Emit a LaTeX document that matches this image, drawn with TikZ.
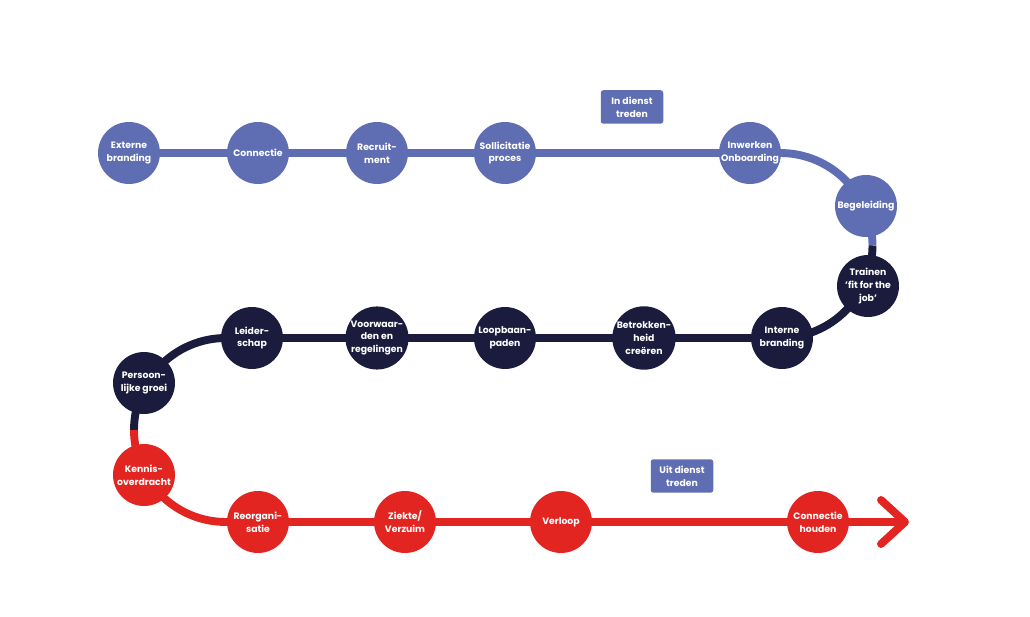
\documentclass[tikz,border=0pt]{standalone}
\usepackage{fontspec}
\setmainfont{Poppins}
\usetikzlibrary{backgrounds}
\definecolor{blauw}{HTML}{5F6DB3}
\definecolor{navy}{HTML}{1A1B3D}
\definecolor{rood}{HTML}{E32522}

\begin{document}
\begin{tikzpicture}[x=0.02cm,y=-0.02cm,
	stap/.style={circle,fill=#1,minimum size=1.24cm,inner sep=0pt,text=white,align=center,font=\bfseries\fontsize{5.3}{7.3}\selectfont},
	fase/.style={rectangle,rounded corners=1.5pt,fill=blauw,minimum width=1.25cm,minimum height=0.67cm,inner sep=0pt,text=white,align=center,font=\bfseries\fontsize{5.3}{7.3}\selectfont},
	lijn/.style={draw=#1,line width=4.5pt}]
	\useasboundingbox (0,0) rectangle (1030,617);
	\node[stap=blauw] (ext) at (129,153) {Externe\\branding};
	\node[stap=blauw] (con1) at (258,153) {Connectie};
	\node[stap=blauw] (rec) at (377,153) {Recruit-\\ment};
	\node[stap=blauw] (sol) at (505,153) {Sollicitatie\\proces};
	\node[stap=blauw] (inw) at (750,153) {Inwerken\\Onboarding};
	\node[stap=blauw] (beg) at (866,206) {Begeleiding};
	\node[stap=navy] (tra) at (868,286) {Trainen\\'fit for the\\job'};
	\node[stap=navy] (int) at (782,338) {Interne\\branding};
	\node[stap=navy] (bet) at (644,338) {Betrokken-\\heid\\creëren};
	\node[stap=navy] (loo) at (505,338) {Loopbaan-\\paden};
	\node[stap=navy] (voo) at (377,338) {Voorwaar-\\den en\\regelingen};
	\node[stap=navy] (lei) at (252,338) {Leider-\\schap};
	\node[stap=navy] (per) at (144,383) {Persoon-\\lijke groei};
	\node[stap=rood] (ken) at (144,475) {Kennis-\\overdracht};
	\node[stap=rood] (reo) at (258,522) {Reorgani-\\satie};
	\node[stap=rood] (zie) at (405,522) {Ziekte/\\Verzuim};
	\node[stap=rood] (ver) at (561,522) {Verloop};
	\node[stap=rood] (con2) at (818,522) {Connectie\\houden};
	\node[fase] (indienst) at (632,107) {In dienst\\treden};
	\node[fase] (uitdienst) at (682,476) {Uit dienst\\treden};
	\coordinate (rechts) at (872.5,245.5);
	\coordinate (links) at (134,430);
	\coordinate (pijl) at (905,522);
	\begin{scope}[on background layer]
		\draw[lijn=blauw] (ext.center) -- (inw.center) -- (780,153) arc[start angle=-90,end angle=0,radius=92.5];
		\draw[lijn=navy] (rechts) arc[start angle=0,end angle=90,radius=92.5] -- (lei.center) -- (226,338) arc[start angle=-90,end angle=-180,radius=92];
		\draw[lijn=rood] (links) arc[start angle=180,end angle=90,radius=92] -- (con2.center) -- (pijl);
		\draw[lijn=rood,line cap=round,line join=round] (881,500) -- (pijl) -- (881,544);
	\end{scope}
\end{tikzpicture}
\end{document}
